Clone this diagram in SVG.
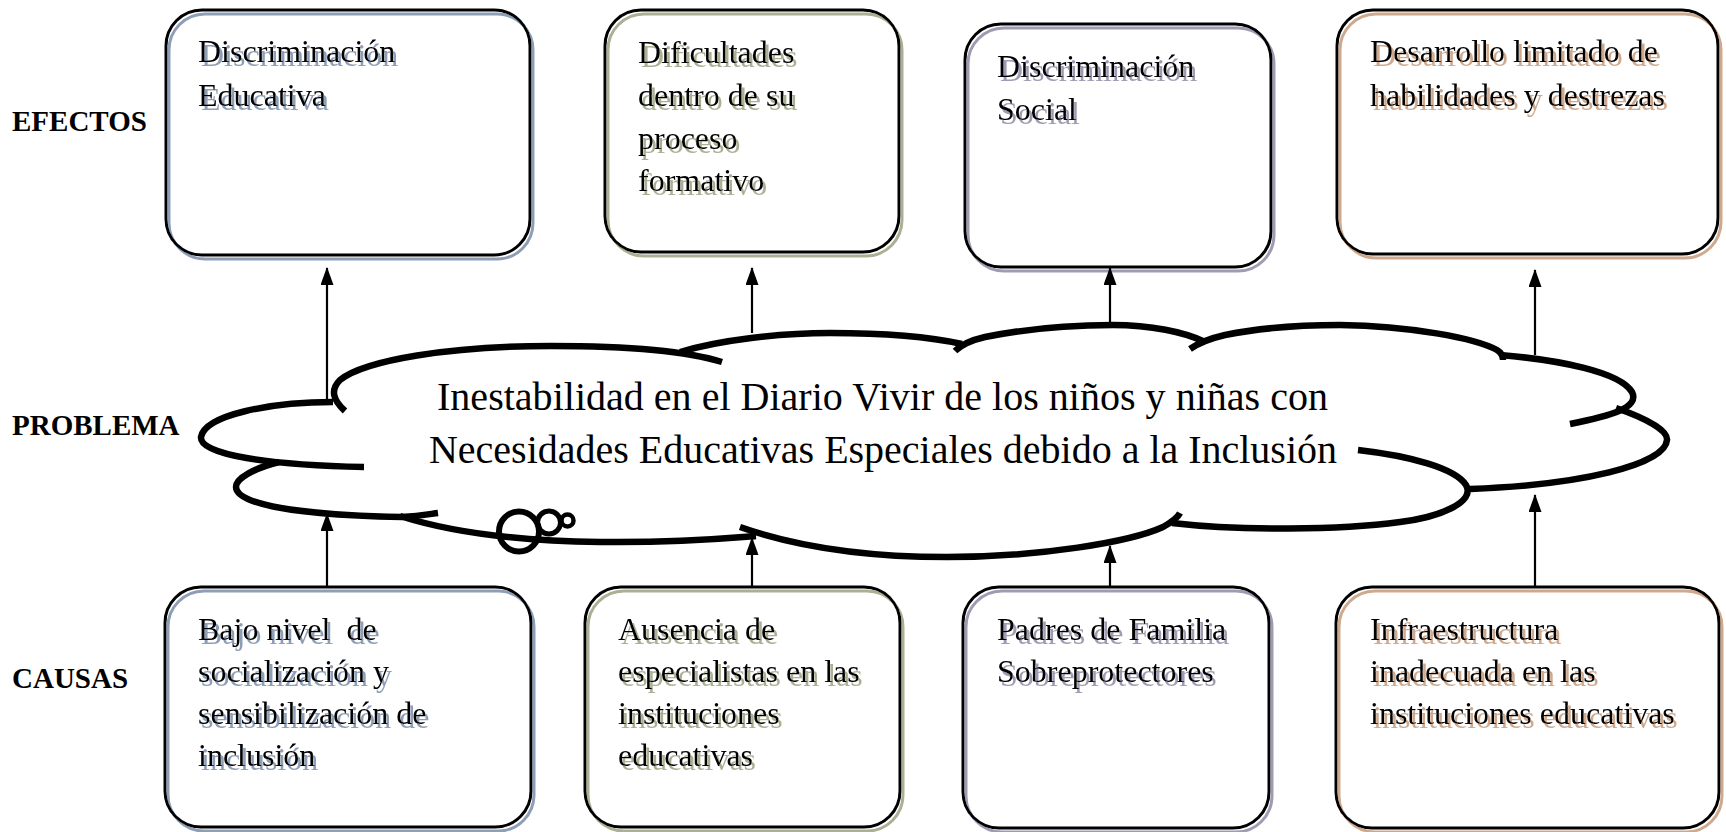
<svg xmlns="http://www.w3.org/2000/svg" width="1726" height="832" viewBox="0 0 1726 832">
<style>
  .box{fill:none;stroke:#000;stroke-width:3}
  .bt{font-family:"Liberation Serif","Times New Roman",serif;font-size:32px;fill:#000}
  .lbl{font-family:"Liberation Serif","Times New Roman",serif;font-size:29px;font-weight:bold;fill:#000}
  .ct{font-family:"Liberation Serif","Times New Roman",serif;font-size:39px;fill:#000}
  .cl{fill:none;stroke:#000;stroke-width:6.5;stroke-linecap:butt}
  .cir{fill:none;stroke:#000}
  .conn{fill:none;stroke:#000;stroke-width:2.2}
</style>
<defs>
  <filter id="shBlue" x="-5%" y="-5%" width="115%" height="115%">
    <feFlood flood-color="#8D9EB6" result="c"/>
    <feComposite in="c" in2="SourceAlpha" operator="in" result="s"/>
    <feOffset in="s" dx="3" dy="4" result="o"/>
    <feMerge><feMergeNode in="o"/><feMergeNode in="SourceGraphic"/></feMerge>
  </filter>
  <filter id="shGreen" x="-5%" y="-5%" width="115%" height="115%">
    <feFlood flood-color="#A9B094" result="c"/>
    <feComposite in="c" in2="SourceAlpha" operator="in" result="s"/>
    <feOffset in="s" dx="3" dy="4" result="o"/>
    <feMerge><feMergeNode in="o"/><feMergeNode in="SourceGraphic"/></feMerge>
  </filter>
  <filter id="shPurple" x="-5%" y="-5%" width="115%" height="115%">
    <feFlood flood-color="#9F9BB2" result="c"/>
    <feComposite in="c" in2="SourceAlpha" operator="in" result="s"/>
    <feOffset in="s" dx="3" dy="4" result="o"/>
    <feMerge><feMergeNode in="o"/><feMergeNode in="SourceGraphic"/></feMerge>
  </filter>
  <filter id="shTan" x="-5%" y="-5%" width="115%" height="115%">
    <feFlood flood-color="#CFA98D" result="c"/>
    <feComposite in="c" in2="SourceAlpha" operator="in" result="s"/>
    <feOffset in="s" dx="3" dy="4" result="o"/>
    <feMerge><feMergeNode in="o"/><feMergeNode in="SourceGraphic"/></feMerge>
  </filter>
  <marker id="arr" viewBox="0 0 18 13" markerWidth="18" markerHeight="13" markerUnits="userSpaceOnUse" refX="17" refY="6.5" orient="auto">
    <path d="M0,0 L18,6.5 L0,13 z" fill="#000"/>
  </marker>
</defs>
<rect width="1726" height="832" fill="#fff"/>

<g id="labels">
  <text class="lbl" x="12" y="131">EFECTOS</text>
  <text class="lbl" x="12" y="435">PROBLEMA</text>
  <text class="lbl" x="12" y="688">CAUSAS</text>
</g>

<g id="efecto-1" filter="url(#shBlue)">
  <rect class="box" x="166" y="10" width="364" height="245" rx="36"/>
  <text class="bt" x="198" y="62">Discriminación</text>
  <text class="bt" x="198" y="106">Educativa</text>
</g>
<g id="efecto-2" filter="url(#shGreen)">
  <rect class="box" x="605" y="10" width="294" height="242" rx="36"/>
  <text class="bt" x="638" y="63">Dificultades</text>
  <text class="bt" x="638" y="106">dentro de su</text>
  <text class="bt" x="638" y="149">proceso</text>
  <text class="bt" x="638" y="191">formativo</text>
</g>
<g id="efecto-3" filter="url(#shPurple)">
  <rect class="box" x="965" y="24" width="306" height="243" rx="36"/>
  <text class="bt" x="997" y="77">Discriminación</text>
  <text class="bt" x="997" y="120">Social</text>
</g>
<g id="efecto-4" filter="url(#shTan)">
  <rect class="box" x="1337" y="10" width="381" height="244" rx="36"/>
  <text class="bt" x="1370" y="62">Desarrollo limitado de</text>
  <text class="bt" x="1370" y="106">habilidades y destrezas</text>
</g>

<g id="problema">
  <path class="cl" d="M345,411 C333,400 330,390 340,380 C365,360 450,346 551,346 C630,346 690,352 722,362"/>
  <path class="cl" d="M333,402 C270,402 205,415 201,437 C199,455 270,465 364,467"/>
  <path class="cl" d="M279,462 C255,468 236,478 236,487 C236,505 300,515 402,517 C420,516 430,514 438,513"/>
  <path class="cl" d="M400,516 C450,532 520,541 600,542 C680,543 730,538 756,536"/>
  <path class="cl" d="M740,527 C800,548 870,557 947,557 C1040,557 1130,542 1163,527 C1172,522 1178,517 1180,513"/>
  <path class="cl" d="M1358,450 C1410,456 1455,468 1466,485 C1476,502 1440,517 1400,522 C1340,530 1240,531 1172,523"/>
  <path class="cl" d="M1616,408 C1645,418 1668,430 1667,440 C1665,465 1580,485 1470,489"/>
  <path class="cl" d="M1500,355 C1560,360 1620,372 1632,392 C1640,408 1610,416 1570,424"/>
  <path class="cl" d="M1190,349 C1200,342 1212,338 1225,335 C1260,328 1300,325 1340,325 C1410,326 1475,338 1497,350 C1502,353 1503,356 1503,360"/>
  <path class="cl" d="M955,351 C962,344 972,340 985,337 C1030,328 1080,325 1113,325 C1150,325 1185,332 1205,342"/>
  <path class="cl" d="M680,352 C720,340 780,333 830,333 C890,333 935,338 962,344"/>
  <circle class="cir" cx="519" cy="531.5" r="20" stroke-width="6"/>
  <circle class="cir" cx="549" cy="522.5" r="11.5" stroke-width="5"/>
  <circle class="cir" cx="567.5" cy="520.5" r="6" stroke-width="4.5"/>
  <text class="ct" x="437" y="410" textLength="891" lengthAdjust="spacingAndGlyphs">Inestabilidad en el Diario Vivir de los niños y niñas con</text>
  <text class="ct" x="429" y="463" textLength="908" lengthAdjust="spacingAndGlyphs">Necesidades Educativas Especiales debido a la Inclusión</text>
</g>

<g id="causa-1" filter="url(#shBlue)">
  <rect class="box" x="165" y="587" width="366" height="240" rx="36"/>
  <text class="bt" x="198" y="640" xml:space="preserve">Bajo nivel  de</text>
  <text class="bt" x="198" y="682">socialización y</text>
  <text class="bt" x="198" y="724">sensibilización de</text>
  <text class="bt" x="198" y="766">inclusión</text>
</g>
<g id="causa-2" filter="url(#shGreen)">
  <rect class="box" x="585" y="587" width="315" height="240" rx="36"/>
  <text class="bt" x="618" y="640">Ausencia de</text>
  <text class="bt" x="618" y="682">especialistas en las</text>
  <text class="bt" x="618" y="724">instituciones</text>
  <text class="bt" x="618" y="766">educativas</text>
</g>
<g id="causa-3" filter="url(#shPurple)">
  <rect class="box" x="963" y="587" width="306" height="241" rx="36"/>
  <text class="bt" x="997" y="640">Padres de Familia</text>
  <text class="bt" x="997" y="682">Sobreprotectores</text>
</g>
<g id="causa-4" filter="url(#shTan)">
  <rect class="box" x="1336" y="587" width="383" height="241" rx="36"/>
  <text class="bt" x="1370" y="640">Infraestructura</text>
  <text class="bt" x="1370" y="682">inadecuada en las</text>
  <text class="bt" x="1370" y="724">instituciones educativas</text>
</g>

<g id="connectors">
  <path class="conn" d="M327,400 L327,268" marker-end="url(#arr)"/>
  <path class="conn" d="M752,333 L752,268" marker-end="url(#arr)"/>
  <path class="conn" d="M1110,325 L1110,268" marker-end="url(#arr)"/>
  <path class="conn" d="M1535,355 L1535,270" marker-end="url(#arr)"/>
  <path class="conn" d="M327,587 L327,514" marker-end="url(#arr)"/>
  <path class="conn" d="M752,587 L752,538" marker-end="url(#arr)"/>
  <path class="conn" d="M1110,587 L1110,546" marker-end="url(#arr)"/>
  <path class="conn" d="M1535,587 L1535,495" marker-end="url(#arr)"/>
</g>
</svg>
